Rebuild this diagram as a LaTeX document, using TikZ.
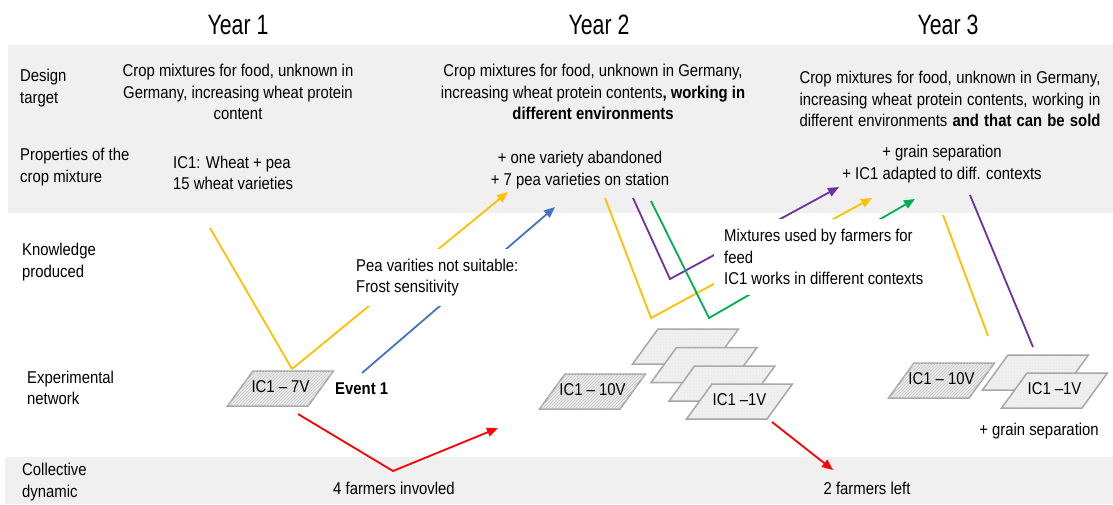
\documentclass[tikz,border=0pt]{standalone}
\usepackage{fontspec}
\setmainfont{Liberation Sans}[FakeStretch=0.87]
\newfontfamily\yearfont{Liberation Sans}[FakeStretch=0.76]
\usepackage{tikz}
\usetikzlibrary{
	shapes.geometric,
	arrows.meta,
	patterns,
	positioning,
	calc
}
\definecolor{bandgray}{RGB}{240,240,240}
\definecolor{fieldgray}{RGB}{166,166,166}
\definecolor{oyellow}{RGB}{255,192,0}
\definecolor{opurple}{RGB}{112,48,160}
\definecolor{ogreen}{RGB}{0,176,80}
\definecolor{oblue}{RGB}{68,114,196}
\definecolor{ored}{RGB}{255,0,0}

% label of a field plot, centred on a fixed width
\newcommand{\fieldlabel}[1]{\makebox[55pt]{#1}}
% one line spread over the full width
\newcommand{\fullline}[1]{\makebox[301pt][s]{#1}}

\begin{document}
\begin{tikzpicture}[x=1pt, y=-1pt,
				txt/.style={
					font=\fontsize{17.1}{21.7}\selectfont,
					align=center, inner sep=0pt
				},
				rowlabel/.style={
					txt, align=left, anchor=west
				},
				year/.style={
					font=\yearfont\fontsize{28}{30}\selectfont, inner sep=0pt
				},
				band/.style={fill=bandgray, draw=none},
				field/.style={
					trapezium, trapezium left angle=54, trapezium right angle=126,
					text height=12pt, text depth=4pt,
					inner xsep=0pt, inner ysep=9.5pt, outer sep=0pt,
					draw=fieldgray, line width=1.5pt,
					font=\fontsize{17.1}{20}\selectfont
				},
				hatchfield/.style={
					field, fill=gray!15,
					postaction={pattern=north east lines, pattern color=gray!45}
				},
				dotfield/.style={
					field, fill=gray!12,
					postaction={pattern=dots, pattern color=gray!30}
				},
				cover/.style={
					txt, align=left, anchor=west, fill=white,
					inner ysep=10pt
				},
				link/.style={line width=1.8pt},
				arrow/.style={link, -{Triangle[length=11pt, width=9pt]}},
				]
				
				\useasboundingbox (0,0) rectangle (1113,504);
				
				%bands
				\path[band] (8,45) rectangle (1113,213);
				\path[band] (5,457) rectangle (1113,504);
				
				%years
				\node (year1) at (238,25) [year] {Year 1};
				\node (year2) at (599,25) [year] {Year 2};
				\node (year3) at (948,25) [year] {Year 3};
				
				%row labels
				\node (lbldesign) at (20,88) [rowlabel] {Design\\target};
				\node (lblprop) at (20,167) [rowlabel] {Properties of the\\crop mixture};
				\node (lblknow) at (22,262) [rowlabel] {Knowledge\\produced};
				\node (lblnet) at (27,388) [rowlabel] {Experimental\\network};
				\node (lblcoll) at (22,482) [rowlabel] {Collective\\dynamic};
				
				%design targets
				\node (des1) at (238,92) [txt] {Crop mixtures for food, unknown in\\Germany, increasing wheat protein\\content};
				\node (des2) at (593,92) [txt] {Crop mixtures for food, unknown in Germany,\\increasing wheat protein contents\textbf{, working in}\\\textbf{different environments}};
				\node (des3) at (950,99) [txt] {\fullline{Crop mixtures for food, unknown in Germany,}\\\fullline{increasing wheat protein contents, working in}\\\fullline{different environments \textbf{and that can be sold}}};
				
				%properties
				\node (prop1) at (173,173) [txt, align=left, anchor=west] {IC1: Wheat + pea\\15 wheat varieties};
				\node (prop2) at (580,170) [txt] {+ one variety abandoned\\+ 7 pea varieties on station};
				\node (prop3) at (942,164) [txt] {+ grain separation\\+ IC1 adapted to diff. contexts};
				
				%1. set
				\coordinate (y1top) at (210,228);
				\coordinate (y1base) at (292,369);
				\coordinate (y1tip) at (508,192);
				\coordinate (b1start) at (362,373);
				\coordinate (b1tip) at (555,207);
				\draw[link, oyellow] (y1top) -- (y1base);
				\draw[arrow, oyellow] (y1base) -- (y1tip);
				\draw[arrow, oblue] (b1start) -- (b1tip);
				
				%2. set
				\coordinate (y2top) at (605,198);
				\coordinate (y2base) at (651,318);
				\coordinate (y2tip) at (872,198);
				\coordinate (p2top) at (633,198);
				\coordinate (p2base) at (670,279);
				\coordinate (p2tip) at (839,187);
				\coordinate (g2top) at (651,201);
				\coordinate (g2base) at (709,318);
				\coordinate (g2tip) at (915,199);
				\draw[arrow, oyellow] (y2top) -- (y2base) -- (y2tip);
				\draw[arrow, opurple] (p2top) -- (p2base) -- (p2tip);
				\draw[arrow, ogreen] (g2top) -- (g2base) -- (g2tip);
				
				%3. set
				\coordinate (y3top) at (943,215);
				\coordinate (y3base) at (988,336);
				\coordinate (p3top) at (970,195);
				\coordinate (p3base) at (1033,347);
				\draw[link, oyellow] (y3top) -- (y3base);
				\draw[link, opurple] (p3top) -- (p3base);
				
				%knowledge
				\node (know1) at (350,277.5) [cover, inner xsep=6pt] {Pea varities not suitable:\\Frost sensitivity};
				\node (know2) at (714,257) [cover, inner xsep=10pt] {Mixtures used by farmers for\\feed\\IC1 works in different contexts};
				
				%network
				\node (net1) at (280.5,388.5) [hatchfield] {\fieldlabel{IC1 -- 7V}};
				\node (event1) at (335,389) [txt, anchor=west] {\textbf{Event 1}};
				
				\node (net2a) at (592.5,391.5) [hatchfield] {\fieldlabel{IC1 -- 10V}};
				\node (net2s1) at (685.5,346.5) [dotfield] {\fieldlabel{}};
				\node (net2s2) at (704,365) [dotfield] {\fieldlabel{}};
				\node (net2s3) at (722,383.5) [dotfield] {\fieldlabel{}};
				\node (net2b) at (739.5,401.5) [dotfield] {\fieldlabel{IC1 --1V}};
				
				\node (net3a) at (941.5,380.5) [hatchfield] {\fieldlabel{IC1 -- 10V}};
				\node (net3s) at (1035.5,372.5) [dotfield] {\fieldlabel{}};
				\node (net3b) at (1054.5,390.5) [dotfield] {\fieldlabel{IC1 --1V}};
				\node (grainsep) at (1039,431) [txt] {+ grain separation};
				
				%collective dynamic
				\node (coll1) at (394,488) [txt] {4 farmers invovled};
				\node (coll2) at (867,488) [txt] {2 farmers left};
				
				\coordinate (r1start) at (298,414);
				\coordinate (r1base) at (393,471);
				\coordinate (r1tip) at (498,428);
				\coordinate (r2start) at (772,422);
				\coordinate (r2tip) at (833,470);
				\draw[arrow, ored] (r1start) -- (r1base) -- (r1tip);
				\draw[arrow, ored] (r2start) -- (r2tip);
\end{tikzpicture}
\end{document}
